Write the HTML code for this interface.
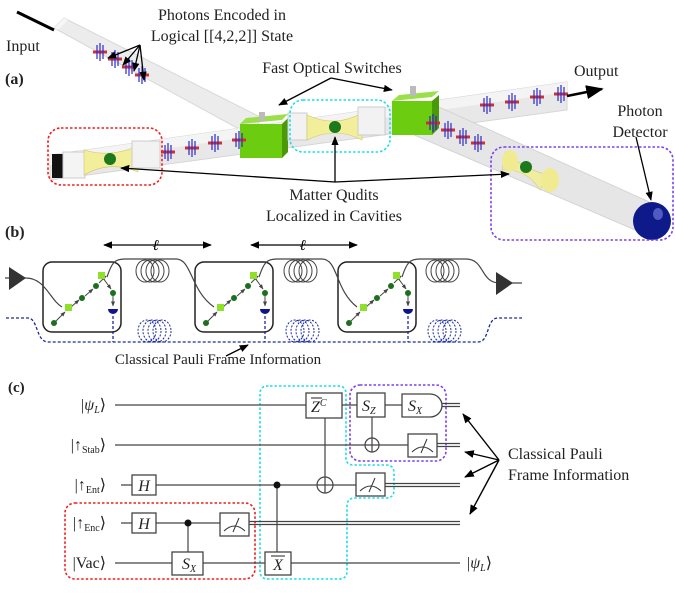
<!DOCTYPE html>
<html><head><meta charset="utf-8"><style>
html,body{margin:0;padding:0;background:#fff;}
svg{display:block;font-family:"Liberation Serif",serif;}
</style></head><body>
<svg width="675" height="595" viewBox="0 0 675 595" xmlns="http://www.w3.org/2000/svg">
<defs>
<marker id="ah" viewBox="0 0 10 10" refX="9" refY="5" markerWidth="7" markerHeight="7" orient="auto-start-reverse"><path d="M0,1 L10,5 L0,9 z" fill="#000"/></marker>
<marker id="ag" viewBox="0 0 10 10" refX="9" refY="5" markerWidth="5" markerHeight="5" orient="auto"><path d="M0,1 L10,5 L0,9 z" fill="#444"/></marker>
<g id="ph"><path d="M-7,0 L7,0" stroke="#d03030" stroke-width="3"/><path d="M-3,-7 L-3,7 M0,-9 L0,9 M3,-7 L3,7" stroke="#2a2ad0" stroke-width="1.2"/></g>
<g id="meter"><rect x="0" y="0" width="29" height="23" fill="#fff" stroke="#444" stroke-width="1.3"/><path d="M4,18 Q14.5,8 25,18" fill="none" stroke="#333"/><path d="M13,19 L19,5" stroke="#333"/></g>
<g id="coil" fill="none" stroke="#444" stroke-width="1"><ellipse cx="10" cy="11" rx="9" ry="11"/><ellipse cx="15" cy="11" rx="9" ry="11"/><ellipse cx="20" cy="11" rx="9" ry="11"/><ellipse cx="25" cy="11" rx="9" ry="11"/></g>
<g id="dcoil" fill="none" stroke="#1a2aa0" stroke-width="1" stroke-dasharray="2,1.5"><ellipse cx="10" cy="11" rx="9" ry="11"/><ellipse cx="15" cy="11" rx="9" ry="11"/><ellipse cx="20" cy="11" rx="9" ry="11"/><ellipse cx="25" cy="11" rx="9" ry="11"/></g>
<g id="bx">
<rect x="0" y="0" width="78" height="70" rx="9" fill="none" stroke="#222" stroke-width="1.5"/>
<g stroke="#444" stroke-width="1" marker-end="url(#ag)"><path d="M12,60 L22,50"/><path d="M28,45 L36,38"/><path d="M42,34 L50,27"/><path d="M56,21 L63,14"/><path d="M60,16 L68,27"/><path d="M70,33 L70,44"/></g>
<circle cx="11" cy="61" r="3" fill="#1d6e1d"/><rect x="22" y="42" width="7" height="7" fill="#8ee02a"/><circle cx="39" cy="36" r="3" fill="#1d6e1d"/><circle cx="53" cy="24" r="3" fill="#1d6e1d"/><rect x="55" y="10" width="7" height="7" fill="#8ee02a"/><circle cx="70" cy="31" r="3" fill="#1d6e1d"/><path d="M65,47 L75,47 A5,5 0 0 1 65,47 z" fill="#11138a"/>
</g>
</defs>

<!-- ========== (a) ========== -->
<!-- beams -->
<polygon points="54,28 64,18 262,118 250,135" fill="#ececec" stroke="#d8d8d8"/>
<polygon points="54,28 64,18 68,20 58,30" fill="#f6f6f6"/>
<polygon points="50,155 567,82 567,110 50,180" fill="#e8e8e8" stroke="#d6d6d6"/>
<polygon points="50,155 567,82 567,92 50,165" fill="#f4f4f4"/>
<polygon points="398,128 439,107 667,210 640,232" fill="#e6e6e6" stroke="#d4d4d4"/>
<!-- cubes -->
<polygon points="240,124 282,120 288,114 246,118" fill="#9be04a"/>
<rect x="240" y="124" width="42" height="34" fill="#6ccc10"/>
<polygon points="282,124 288,118 288,152 282,158" fill="#4a9a08"/>
<rect x="259" y="112" width="6" height="9" fill="#bbb"/>
<polygon points="392,101 432,97 439,91 399,95" fill="#9be04a"/>
<rect x="392" y="101" width="40" height="34" fill="#6ccc10"/>
<polygon points="432,101 439,95 439,128 432,135" fill="#4a9a08"/>
<rect x="410" y="86" width="6" height="10" fill="#bbb"/>
<!-- cavities -->
<rect x="52" y="154" width="11" height="24" fill="#111"/>
<rect x="63" y="152" width="22" height="26" fill="#f4f4f4" stroke="#ccc"/>
<path d="M84,150 Q110,158 138,146 L138,172 Q110,160 84,175 z" fill="#f2ee9a" stroke="#cdc670" stroke-width="0.6"/>
<rect x="132" y="141" width="28" height="27" fill="#f2f2f2" stroke="#ccc"/>
<circle cx="110" cy="159" r="6" fill="#1c7a1c"/>
<rect x="288" y="113" width="19" height="27" fill="#f2f2f2" stroke="#ccc"/>
<path d="M307,115 Q335,128 362,113 L362,140 Q335,126 307,140 z" fill="#f2ee9a" stroke="#cdc670" stroke-width="0.6"/>
<rect x="358" y="107" width="27" height="28" fill="#f2f2f2" stroke="#ccc"/>
<circle cx="335" cy="127" r="6" fill="#1c7a1c"/>
<path d="M505,152 Q526,170 548,175 L540,190 Q526,168 502,170 z" fill="#f2ee9a" stroke="#cdc670" stroke-width="0.6" opacity="0.9"/>
<ellipse cx="510" cy="161" rx="8" ry="11" fill="#f0ea90"/>
<ellipse cx="550" cy="180" rx="9" ry="12" fill="#f0ea90"/>
<circle cx="526" cy="167" r="6" fill="#1c7a1c"/>
<!-- detector -->
<circle cx="652" cy="221" r="19" fill="#0f1a8a"/>
<ellipse cx="658" cy="214" rx="5" ry="6" fill="#6b78d8" opacity="0.7"/>
<!-- photons -->
<use href="#ph" x="100" y="52"/><use href="#ph" x="115" y="59"/><use href="#ph" x="129" y="67"/><use href="#ph" x="142" y="75"/>
<use href="#ph" x="168" y="152"/><use href="#ph" x="192" y="148"/><use href="#ph" x="215" y="143"/><use href="#ph" x="239" y="140"/>
<use href="#ph" x="487" y="105"/><use href="#ph" x="512" y="102"/><use href="#ph" x="537" y="97"/><use href="#ph" x="561" y="94"/>
<use href="#ph" x="433" y="123"/><use href="#ph" x="448" y="130"/><use href="#ph" x="463" y="137"/><use href="#ph" x="478" y="143"/>
<!-- dashed boxes -->
<rect x="48" y="128" width="114" height="57" rx="13" fill="none" stroke="#ee2020" stroke-width="1.6" stroke-dasharray="2.5,2"/>
<rect x="290" y="100" width="100" height="52" rx="13" fill="none" stroke="#20dde8" stroke-width="1.6" stroke-dasharray="2.5,2"/>
<rect x="491" y="147" width="182" height="93" rx="13" fill="none" stroke="#7a40ee" stroke-width="1.6" stroke-dasharray="2.5,2"/>
<!-- arrows -->
<path d="M17,12 L54,30" stroke="#000" stroke-width="3"/>
<path d="M567,96 L602,89" stroke="#000" stroke-width="2.5" marker-end="url(#ah)"/>
<g stroke="#000" stroke-width="1.3" fill="none" marker-end="url(#ah)">
<path d="M140,45 L108,58"/><path d="M140,45 L123,65"/><path d="M140,45 L134,71"/><path d="M140,45 L144,80"/>
<path d="M331,78 L279,105"/><path d="M331,78 L392,90"/>
<path d="M636,137 L651,200"/>
<path d="M335,182 L121,168"/><path d="M335,182 L335,137"/><path d="M335,182 L509,174"/>
</g>
<g font-size="16" fill="#222">
<text x="222" y="20" text-anchor="middle">Photons Encoded in</text>
<text x="222" y="41" text-anchor="middle">Logical [[4,2,2]] State</text>
<text x="6" y="51">Input</text>
<text x="5" y="84" font-weight="bold">(a)</text>
<text x="332" y="73" text-anchor="middle">Fast Optical Switches</text>
<text x="574" y="76">Output</text>
<text x="640" y="116" text-anchor="middle">Photon</text>
<text x="640" y="137" text-anchor="middle">Detector</text>
<text x="334" y="200" text-anchor="middle">Matter Qudits</text>
<text x="334" y="221" text-anchor="middle">Localized in Cavities</text>
<text x="5" y="237" font-weight="bold">(b)</text>
</g>

<!-- ========== (b) ========== -->
<g stroke="#000" stroke-width="1.3" marker-end="url(#ah)" marker-start="url(#ah)"><path d="M104,245 L211,245"/><path d="M251,245 L357,245"/></g>
<text x="156" y="250" font-size="15" font-style="italic" text-anchor="middle" font-weight="bold">ℓ</text>
<text x="303" y="250" font-size="15" font-style="italic" text-anchor="middle" font-weight="bold">ℓ</text>
<use href="#bx" x="43" y="262"/><use href="#bx" x="195" y="262"/><use href="#bx" x="338" y="262"/>
<g fill="none" stroke="#444" stroke-width="1.2">
<path d="M5,278 L26,278 C45,278 50,300 62,307"/>
<path d="M107,277 C112,262 115,259 125,259 L176,259 C192,259 190,290 214,307"/>
<path d="M259,277 C264,262 267,259 277,259 L322,259 C338,259 335,290 357,307"/>
<path d="M402,277 C407,262 410,259 420,259 L466,259 C485,259 480,283 500,283 L522,283"/>
</g>
<use href="#coil" x="135" y="260"/><use href="#coil" x="283" y="260"/><use href="#coil" x="425" y="260"/>
<polygon points="9,267 26,278 9,290" fill="#333"/>
<polygon points="496,272 513,283 496,295" fill="#333"/>
<g fill="none" stroke="#1a2aa0" stroke-width="1.3" stroke-dasharray="3,2">
<path d="M6,318 L28,318 C38,318 36,342 48,342 L478,342 C490,342 486,318 498,318 L522,318"/>
<path d="M113,316 L113,342"/><path d="M265,316 L265,342"/><path d="M408,316 L408,342"/>
</g>
<use href="#dcoil" x="137" y="320"/><use href="#dcoil" x="285" y="320"/><use href="#dcoil" x="427" y="320"/>
<path d="M226,356 L248,345" stroke="#000" stroke-width="1.3" marker-end="url(#ah)"/>
<text x="218" y="364" font-size="15" fill="#222" text-anchor="middle">Classical Pauli Frame Information</text>

<!-- ========== (c) ========== -->
<text x="8" y="392" font-size="15" font-weight="bold" fill="#222">(c)</text>
<!-- regions -->
<rect x="65" y="503" width="190" height="76" rx="10" fill="none" stroke="#ee2020" stroke-width="1.6" stroke-dasharray="2.5,2"/>
<path d="M270,386 L338,386 Q346,386 346,394 L346,458 Q346,465 354,465 L386,465 Q394,465 394,473 L394,490 Q394,498 386,498 L355,498 Q347,498 347,506 L347,571 Q347,579 339,579 L268,579 Q260,579 260,571 L260,394 Q260,386 268,386 z" fill="none" stroke="#20dde8" stroke-width="1.6" stroke-dasharray="2.5,2"/>
<rect x="350" y="385" width="96" height="76" rx="10" fill="none" stroke="#7a40ee" stroke-width="1.6" stroke-dasharray="2.5,2"/>
<!-- wires -->
<g stroke="#444" stroke-width="1.2" fill="none">
<path d="M115,405 L442,405"/><path d="M115,445 L437,445"/><path d="M121,485 L385,485"/><path d="M121,523 L249,523"/><path d="M115,563 L460,563"/>
<path d="M442,403.5 L460,403.5 M442,406.5 L460,406.5"/>
<path d="M437,443.5 L460,443.5 M437,446.5 L460,446.5"/>
<path d="M385,483.5 L460,483.5 M385,486.5 L460,486.5"/>
<path d="M249,521.5 L460,521.5 M249,524.5 L460,524.5"/>
<path d="M188,523 L188,552"/><path d="M277,485 L277,552"/><path d="M325,418 L325,493"/><path d="M372,417 L372,452"/>
</g>
<circle cx="188" cy="523" r="3.5" fill="#111"/><circle cx="277" cy="485" r="3.5" fill="#111"/>
<g fill="#fff" stroke="#444" stroke-width="1.2">
<circle cx="325" cy="485" r="8"/><circle cx="372" cy="445" r="7"/>
</g>
<path d="M317,485 L333,485 M325,477 L325,493 M365,445 L379,445 M372,438 L372,452" stroke="#444" stroke-width="1.2"/>
<g fill="#fff" stroke="#444" stroke-width="1.3">
<rect x="132" y="475" width="24" height="20"/><rect x="132" y="513" width="24" height="20"/>
<rect x="172" y="552" width="31" height="23"/>
<rect x="265" y="552" width="26" height="23"/>
<rect x="306" y="393" width="36" height="25"/>
<rect x="357" y="393" width="28" height="24"/>
<path d="M402,394 L430,394 A12,11.5 0 0 1 430,417 L402,417 z"/>
</g>
<use href="#meter" x="220" y="513"/><use href="#meter" x="408" y="434"/><use href="#meter" x="356" y="473"/>
<g font-size="16" fill="#222">
<text x="144" y="491" text-anchor="middle" font-style="italic">H</text>
<text x="144" y="529" text-anchor="middle" font-style="italic">H</text>
<text x="182" y="569" font-style="italic">S<tspan font-size="10" dy="3">X</tspan></text>
<text x="278" y="570" text-anchor="middle" font-style="italic">X</text>
<path d="M271,556 L285,556" stroke="#222"/>
<text x="311" y="412" font-style="italic">Z<tspan font-size="10" dy="-6">C</tspan></text>
<path d="M311,398 L322,398" stroke="#222"/>
<text x="362" y="411" font-style="italic">S<tspan font-size="10" dy="3">Z</tspan></text>
<text x="408" y="411" font-style="italic">S<tspan font-size="10" dy="3">X</tspan></text>
<g text-anchor="end">
<text x="106" y="410">|<tspan font-style="italic">ψ</tspan><tspan font-size="10" dy="3" font-style="italic">L</tspan><tspan dy="-3">⟩</tspan></text>
<text x="106" y="450">|↑<tspan font-size="10" dy="3">Stab</tspan><tspan dy="-3">⟩</tspan></text>
<text x="106" y="490">|↑<tspan font-size="10" dy="3">Ent</tspan><tspan dy="-3">⟩</tspan></text>
<text x="106" y="528">|↑<tspan font-size="10" dy="3">Enc</tspan><tspan dy="-3">⟩</tspan></text>
<text x="106" y="568">|Vac⟩</text>
</g>
<text x="467" y="568">|<tspan font-style="italic">ψ</tspan><tspan font-size="10" dy="3" font-style="italic">L</tspan><tspan dy="-3">⟩</tspan></text>
<text x="508" y="459">Classical Pauli</text>
<text x="508" y="480">Frame Information</text>
</g>
<g stroke="#000" stroke-width="1.4" marker-end="url(#ah)">
<path d="M499,460 L463,414"/><path d="M499,460 L465,452"/><path d="M499,460 L465,477"/><path d="M499,460 L470,514"/>
</g>
</svg>
</body></html>
